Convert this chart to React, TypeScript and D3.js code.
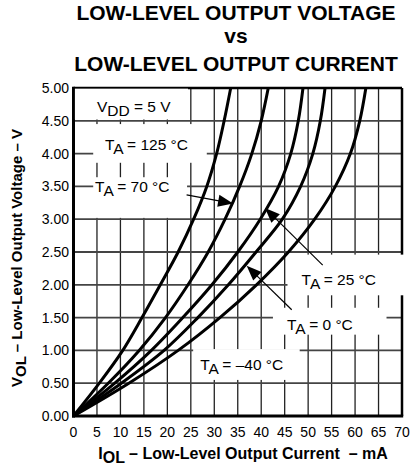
import React from "react";
import * as d3 from "d3";

const titleLines = ["LOW-LEVEL OUTPUT VOLTAGE", "vs", "LOW-LEVEL OUTPUT CURRENT"];
const xTickValues = [0, 5, 10, 15, 20, 25, 30, 35, 40, 45, 50, 55, 60, 65, 70];
const yTickValues = [0, 0.5, 1, 1.5, 2, 2.5, 3, 3.5, 4, 4.5, 5];

// Output voltage (V) sample levels, and the current (mA) of each curve at those levels
const voltages = [0, 0.5, 1, 1.5, 2, 2.5, 3, 3.5, 4, 4.5, 5];
const current125 = [0, 5.5, 10.5, 14.6, 18.5, 22.3, 25.6, 28.4, 30.5, 32.1, 33.5];
const current70 = [0, 7.4, 14.0, 19.6, 24.4, 28.7, 32.3, 35.4, 38.0, 40.0, 41.5];
const current25 = [0, 8.8, 16.6, 23.3, 29.5, 35.0, 39.8, 43.7, 46.3, 47.9, 48.9];
const current0 = [0, 10.2, 19.3, 26.5, 33.0, 38.9, 44.5, 48.4, 51.0, 52.6, 53.6];
const currentM40 = [0, 11.8, 22.3, 31.2, 39.0, 45.8, 51.4, 55.8, 59.0, 61.0, 62.3];
const seriesCurrents = [current125, current70, current25, current0, currentM40];

// Annotation labels (data coords: mA, V)
const labelTexts = [
  { main: "V", sub: "DD", rest: " = 5 V", at: [5.0, 4.63] },
  { main: "T", sub: "A", rest: " = 125 °C", at: [6.7, 4.05] },
  { main: "T", sub: "A", rest: " = 70 °C", at: [4.6, 3.42] },
  { main: "T", sub: "A", rest: " = 25 °C", at: [48.6, 2.0] },
  { main: "T", sub: "A", rest: " = 0 °C", at: [45.5, 1.31] },
  { main: "T", sub: "A", rest: " = –40 °C", at: [27.0, 0.70] },
];
// White boxes behind labels: [I0, I1, V0, V1]
const labelBoxes = [
  [0.3, 24.4, 4.52, 4.99],
  [4.2, 28.4, 3.86, 4.45],
  [4.2, 24.2, 3.02, 3.64],
  [45.6, 70.6, 1.84, 2.46],
  [42.5, 66.7, 1.24, 1.65],
  [25.5, 48.2, 0.55, 1.02],
];
// Arrows: tail [I, V] -> tip [I, V]
const arrows = [
  { from: [24.1, 3.37], to: [34.0, 3.24] },
  { from: [53.1, 2.3], to: [40.8, 3.17] },
  { from: [46.5, 1.62], to: [36.9, 2.29] },
];

const W = 417;
const H = 468;
const FONT = "'Liberation Sans', Arial, Helvetica, sans-serif";

export default function App() {
  const x = d3.scaleLinear().domain([0, 70]).range([73.5, 402]);
  const y = d3.scaleLinear().domain([0, 5]).range([416, 88]);
  const line = d3
    .line<[number, number]>()
    .x((d) => x(d[0]))
    .y((d) => y(d[1]))
    .curve(d3.curveCatmullRom.alpha(0.5));
  const fmt = d3.format(".2f");

  const arrowHead = (a: { from: number[]; to: number[] }) => {
    const x1 = x(a.from[0]), y1 = y(a.from[1]);
    const x2 = x(a.to[0]), y2 = y(a.to[1]);
    const dx = x2 - x1, dy = y2 - y1;
    const len = Math.hypot(dx, dy);
    const ux = dx / len, uy = dy / len;
    const L = 15, hw = 6;
    const bx = x2 - ux * L, by = y2 - uy * L;
    return {
      line: [x1, y1, bx + ux * 2, by + uy * 2],
      pts: `${x2},${y2} ${bx - uy * hw},${by + ux * hw} ${bx + uy * hw},${by - ux * hw}`,
    };
  };

  return (
    <svg
      width={W}
      height={H}
      style={{ position: "absolute", left: 0, top: 0, background: "#fff" }}
      fontFamily={FONT}
    >
      <rect width={W} height={H} fill="#fff" />
      {/* title */}
      {titleLines.map((t, i) => (
        <text
          key={t}
          x={236}
          y={[20, 43, 71][i]}
          textAnchor="middle"
          fontWeight="bold"
          fontSize={21}
        >
          {t}
        </text>
      ))}

      {/* grid */}
      {xTickValues.map((v) => (
        <line key={"gx" + v} x1={x(v)} x2={x(v)} y1={y(0)} y2={y(5)} stroke="#222" strokeWidth={1.3} />
      ))}
      {yTickValues.map((v) => (
        <line key={"gy" + v} x1={x(0)} x2={x(70)} y1={y(v)} y2={y(v)} stroke="#444" strokeWidth={1.8} />
      ))}

      {/* frame */}
      <line x1={x(0)} x2={x(70)} y1={y(5)} y2={y(5)} stroke="#000" strokeWidth={2.5} />
      <line x1={x(70)} x2={x(70)} y1={y(5)} y2={y(0)} stroke="#000" strokeWidth={2.5} />
      <line x1={x(0)} x2={x(0)} y1={y(5) - 1.2} y2={y(0) + 1.5} stroke="#000" strokeWidth={3} />
      <line x1={x(0) - 1.5} x2={x(70) + 1.2} y1={y(0)} y2={y(0)} stroke="#000" strokeWidth={3} />

      {/* label boxes */}
      {labelBoxes.map((b, i) => (
        <rect
          key={"b" + i}
          x={x(b[0])}
          y={y(b[3])}
          width={x(b[1]) - x(b[0])}
          height={y(b[2]) - y(b[3])}
          fill="#fff"
        />
      ))}

      {/* curves */}
      {seriesCurrents.map((s, i) => (
        <path
          key={"c" + i}
          d={line(s.map((c, j) => [c, voltages[j]] as [number, number])) || ""}
          fill="none"
          stroke="#000"
          strokeWidth={3}
        />
      ))}

      {/* arrows */}
      {arrows.map((a, i) => {
        const h = arrowHead(a);
        return (
          <g key={"a" + i}>
            <line x1={h.line[0]} y1={h.line[1]} x2={h.line[2]} y2={h.line[3]} stroke="#000" strokeWidth={1.2} />
            <polygon points={h.pts} fill="#000" />
          </g>
        );
      })}

      {/* labels */}
      {labelTexts.map((l, i) => (
        <text key={"l" + i} x={x(l.at[0])} y={y(l.at[1])} fontSize={15.5}>
          {l.main}
          <tspan dy={4}>{l.sub}</tspan>
          <tspan dy={-4}>{l.rest}</tspan>
        </text>
      ))}

      {/* y tick labels */}
      {yTickValues.map((v) => (
        <text key={"yl" + v} x={69} y={y(v) + 5} textAnchor="end" fontSize={14}>
          {fmt(v)}
        </text>
      ))}
      {/* x tick labels */}
      {xTickValues.map((v) => (
        <text key={"xl" + v} x={x(v)} y={437} textAnchor="middle" fontSize={14}>
          {v}
        </text>
      ))}

      {/* axis titles */}
      <text x={243} y={459} textAnchor="middle" fontWeight="bold" fontSize={16}>
        I<tspan dy={4}>OL</tspan>
        <tspan dy={-4}>{" – Low-Level Output Current\u00a0 – mA"}</tspan>
      </text>
      <text
        transform={`translate(22,258) rotate(-90)`}
        textAnchor="middle"
        fontWeight="bold"
        fontSize={15}
      >
        V<tspan dy={4}>OL</tspan>
        <tspan dy={-4}> – Low-Level Output Voltage – V</tspan>
      </text>
    </svg>
  );
}
